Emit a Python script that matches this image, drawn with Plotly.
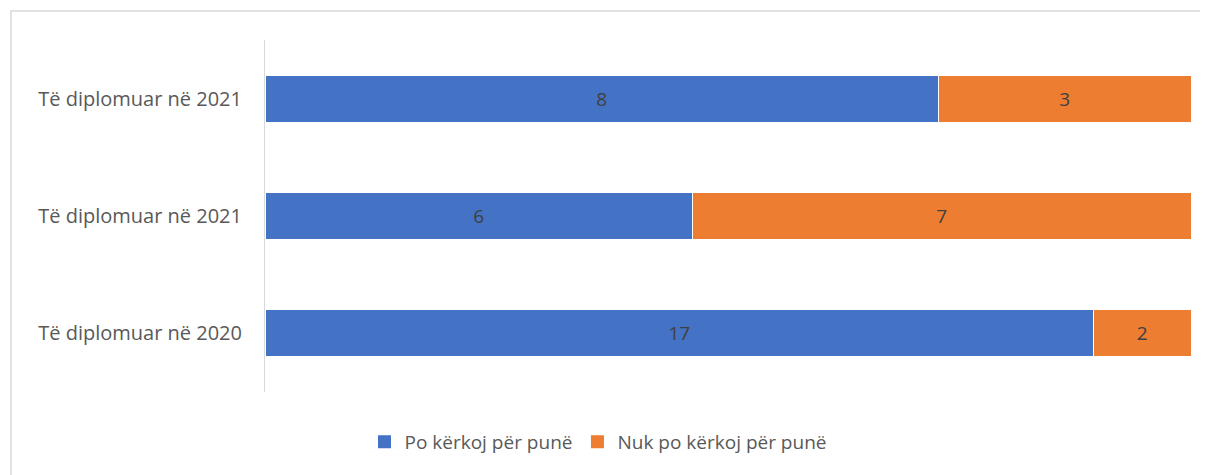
import plotly.graph_objects as go

categories = ["Të diplomuar në 2020", "Të diplomuar në 2021", "Të diplomuar në 2021"]
po_kerkoj = [17, 6, 8]
nuk_po_kerkoj = [2, 7, 3]
series_names = ["Po kërkoj për punë", "Nuk po kërkoj për punë"]
colors = ["#4472C4", "#ED7D31"]

ypos = list(range(len(categories)))
FONT = "Open Sans"

fig = go.Figure()
for name, vals, col in zip(series_names, [po_kerkoj, nuk_po_kerkoj], colors):
    fig.add_trace(go.Bar(
        y=ypos, x=vals, name=name, orientation="h", showlegend=False,
        marker=dict(color=col, line=dict(color="white", width=1)),
        text=[str(v) for v in vals], textposition="inside",
        insidetextanchor="middle",
        textfont=dict(family=FONT, size=19, color="#404040"),
    ))
# legend entries with larger square swatches
for name, col in zip(series_names, colors):
    fig.add_trace(go.Scatter(
        x=[None], y=[None], mode="markers", name=name, showlegend=True,
        marker=dict(symbol="square", size=13, color=col),
    ))

W, H = 1200, 467
L, T, R, B = 257, 32, 17, 83
PW, PH = W - L - R, H - T - B

fig.update_layout(
    barmode="stack", barnorm="percent", bargap=0.6,
    width=W, height=H,
    margin=dict(l=L, r=R, t=T, b=B),
    paper_bgcolor="white", plot_bgcolor="white",
    font=dict(family=FONT, size=19, color="#595959"),
    legend=dict(orientation="h", x=(590 - L) / PW, xanchor="center",
                y=(T + PH - 434) / PH, yanchor="middle",
                font=dict(family=FONT, size=19, color="#595959"), traceorder="normal",
                itemsizing="trace", itemwidth=30),
    xaxis=dict(range=[0, 100], showgrid=False, showticklabels=False, zeroline=False,
               showline=False, fixedrange=True),
    yaxis=dict(tickvals=ypos, ticktext=categories, range=[-0.5, 2.5], showgrid=False,
               zeroline=False, showline=True, linecolor="#d9d9d9", linewidth=1,
               ticks="", ticklabelstandoff=18,
               tickfont=dict(family=FONT, size=20, color="#595959")),
    shapes=[dict(type="rect", xref="paper", yref="paper",
                 x0=(3 - L) / PW, x1=1.5, y0=-0.5, y1=1 + (T - 3) / PH,
                 line=dict(color="#d9d9d9", width=1.5), fillcolor="rgba(0,0,0,0)", layer="below")],
)

fig.write_html("out.html")
